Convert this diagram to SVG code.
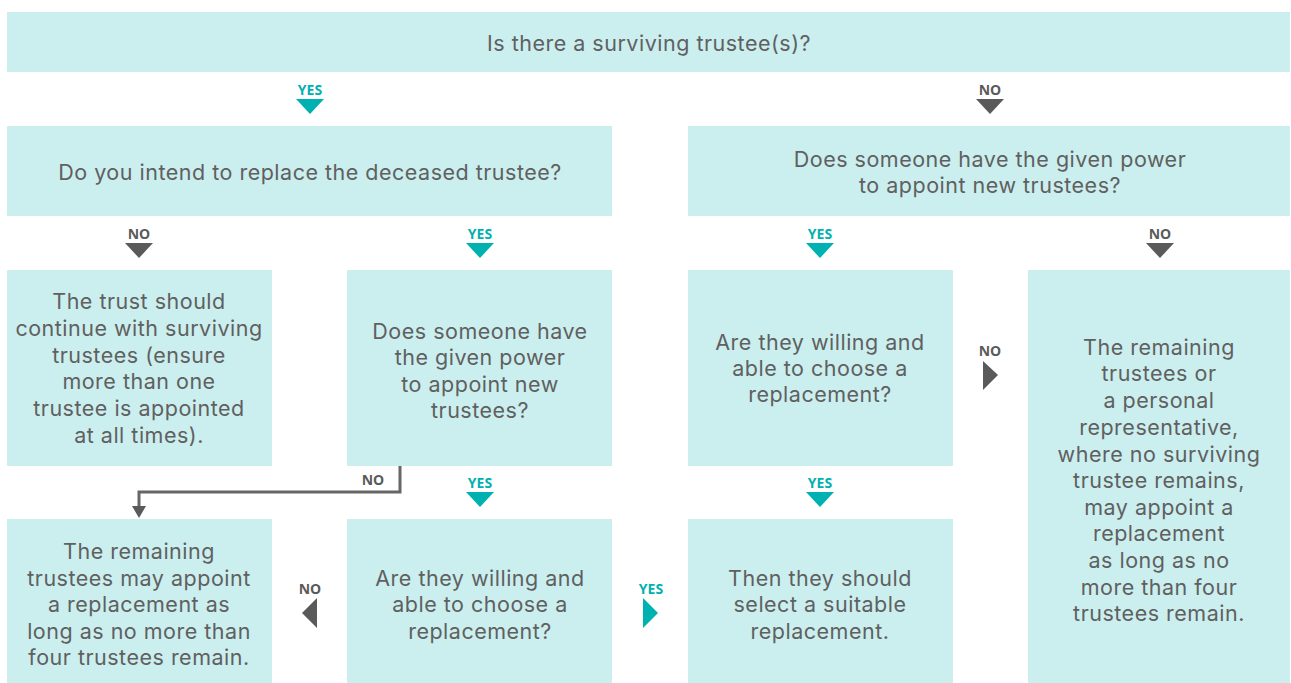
<svg xmlns="http://www.w3.org/2000/svg" width="1291" height="683" viewBox="0 0 1291 683">
<style>
.box{fill:#cbefef}
.t{font-family:Inter,"Open Sans",sans-serif;font-size:21.5px;letter-spacing:0.5px;fill:#606060;text-anchor:middle}
.ly{font-family:"Open Sans","Noto Sans",sans-serif;font-size:14px;font-weight:bold;fill:#00b1b1;text-anchor:middle}
.ln{font-family:"Open Sans","Noto Sans",sans-serif;font-size:14px;font-weight:bold;fill:#5a5a5a;text-anchor:middle}
.ay{fill:#00b1b1}
.an{fill:#5a5a5a}
</style>
<rect width="1291" height="683" fill="#ffffff"/>
<g id="q1"><rect class="box" x="7" y="12" width="1283" height="60"/><text class="t" x="649" y="51">Is there a surviving trustee(s)?</text></g>
<g id="q2"><rect class="box" x="7" y="126" width="605" height="90"/><text class="t" x="310" y="180">Do you intend to replace the deceased trustee?</text></g>
<g id="q3"><rect class="box" x="688" y="126" width="602" height="90"/><text class="t" x="990" y="167">Does someone have the given power</text><text class="t" x="990" y="193">to appoint new trustees?</text></g>
<g id="r1"><rect class="box" x="7" y="270" width="265" height="196"/>
<text class="t" x="139" y="309">The trust should</text><text class="t" x="139" y="336">continue with surviving</text><text class="t" x="139" y="363">trustees (ensure</text><text class="t" x="139" y="389">more than one</text><text class="t" x="139" y="416">trustee is appointed</text><text class="t" x="139" y="443">at all times).</text></g>
<g id="q4"><rect class="box" x="347" y="270" width="265" height="196"/>
<text class="t" x="480" y="339">Does someone have</text><text class="t" x="480" y="365">the given power</text><text class="t" x="480" y="392">to appoint new</text><text class="t" x="480" y="418">trustees?</text></g>
<g id="q5"><rect class="box" x="688" y="270" width="265" height="196"/>
<text class="t" x="820" y="350">Are they willing and</text><text class="t" x="820" y="376">able to choose a</text><text class="t" x="820" y="402">replacement?</text></g>
<g id="r2"><rect class="box" x="1028" y="270" width="262" height="413"/>
<text class="t" x="1159" y="355">The remaining</text><text class="t" x="1159" y="381">trustees or</text><text class="t" x="1159" y="408">a personal</text><text class="t" x="1159" y="435">representative,</text><text class="t" x="1159" y="462">where no surviving</text><text class="t" x="1159" y="488">trustee remains,</text><text class="t" x="1159" y="515">may appoint a</text><text class="t" x="1159" y="541">replacement</text><text class="t" x="1159" y="568">as long as no</text><text class="t" x="1159" y="595">more than four</text><text class="t" x="1159" y="621">trustees remain.</text></g>
<g id="r3"><rect class="box" x="7" y="519" width="265" height="164"/>
<text class="t" x="139" y="559">The remaining</text><text class="t" x="139" y="586">trustees may appoint</text><text class="t" x="139" y="612">a replacement as</text><text class="t" x="139" y="639">long as no more than</text><text class="t" x="139" y="665">four trustees remain.</text></g>
<g id="q6"><rect class="box" x="347" y="519" width="265" height="164"/>
<text class="t" x="480" y="586">Are they willing and</text><text class="t" x="480" y="612">able to choose a</text><text class="t" x="480" y="639">replacement?</text></g>
<g id="r4"><rect class="box" x="688" y="519" width="265" height="164"/>
<text class="t" x="820" y="586">Then they should</text><text class="t" x="820" y="612">select a suitable</text><text class="t" x="820" y="639">replacement.</text></g>
<g id="connectors">
<text class="ly" x="310" y="95">YES</text><polygon class="ay" points="296,99 324,99 310,114"/>
<text class="ln" x="990" y="95">NO</text><polygon class="an" points="976,99 1004,99 990,114"/>
<text class="ln" x="139" y="239">NO</text><polygon class="an" points="125,243 153,243 139,258"/>
<text class="ly" x="480" y="239">YES</text><polygon class="ay" points="466,243 494,243 480,258"/>
<text class="ly" x="820" y="239">YES</text><polygon class="ay" points="806,243 834,243 820,258"/>
<text class="ln" x="1160" y="239">NO</text><polygon class="an" points="1146,243 1174,243 1160,258"/>
<text class="ln" x="990" y="356">NO</text><polygon class="an" points="983,361 983,390 998,375"/>
<path d="M400 466 V492 H139 V507" fill="none" stroke="#666666" stroke-width="3"/>
<polygon class="an" points="132,506 146,506 139,518"/>
<text class="ln" x="373" y="485">NO</text>
<text class="ly" x="480" y="488">YES</text><polygon class="ay" points="466,492 494,492 480,507"/>
<text class="ly" x="820" y="488">YES</text><polygon class="ay" points="806,492 834,492 820,507"/>
<text class="ln" x="310" y="594">NO</text><polygon class="an" points="317,598 317,628 302,613"/>
<text class="ly" x="651" y="594">YES</text><polygon class="ay" points="643,598 643,628 658,613"/>
</g>
</svg>
